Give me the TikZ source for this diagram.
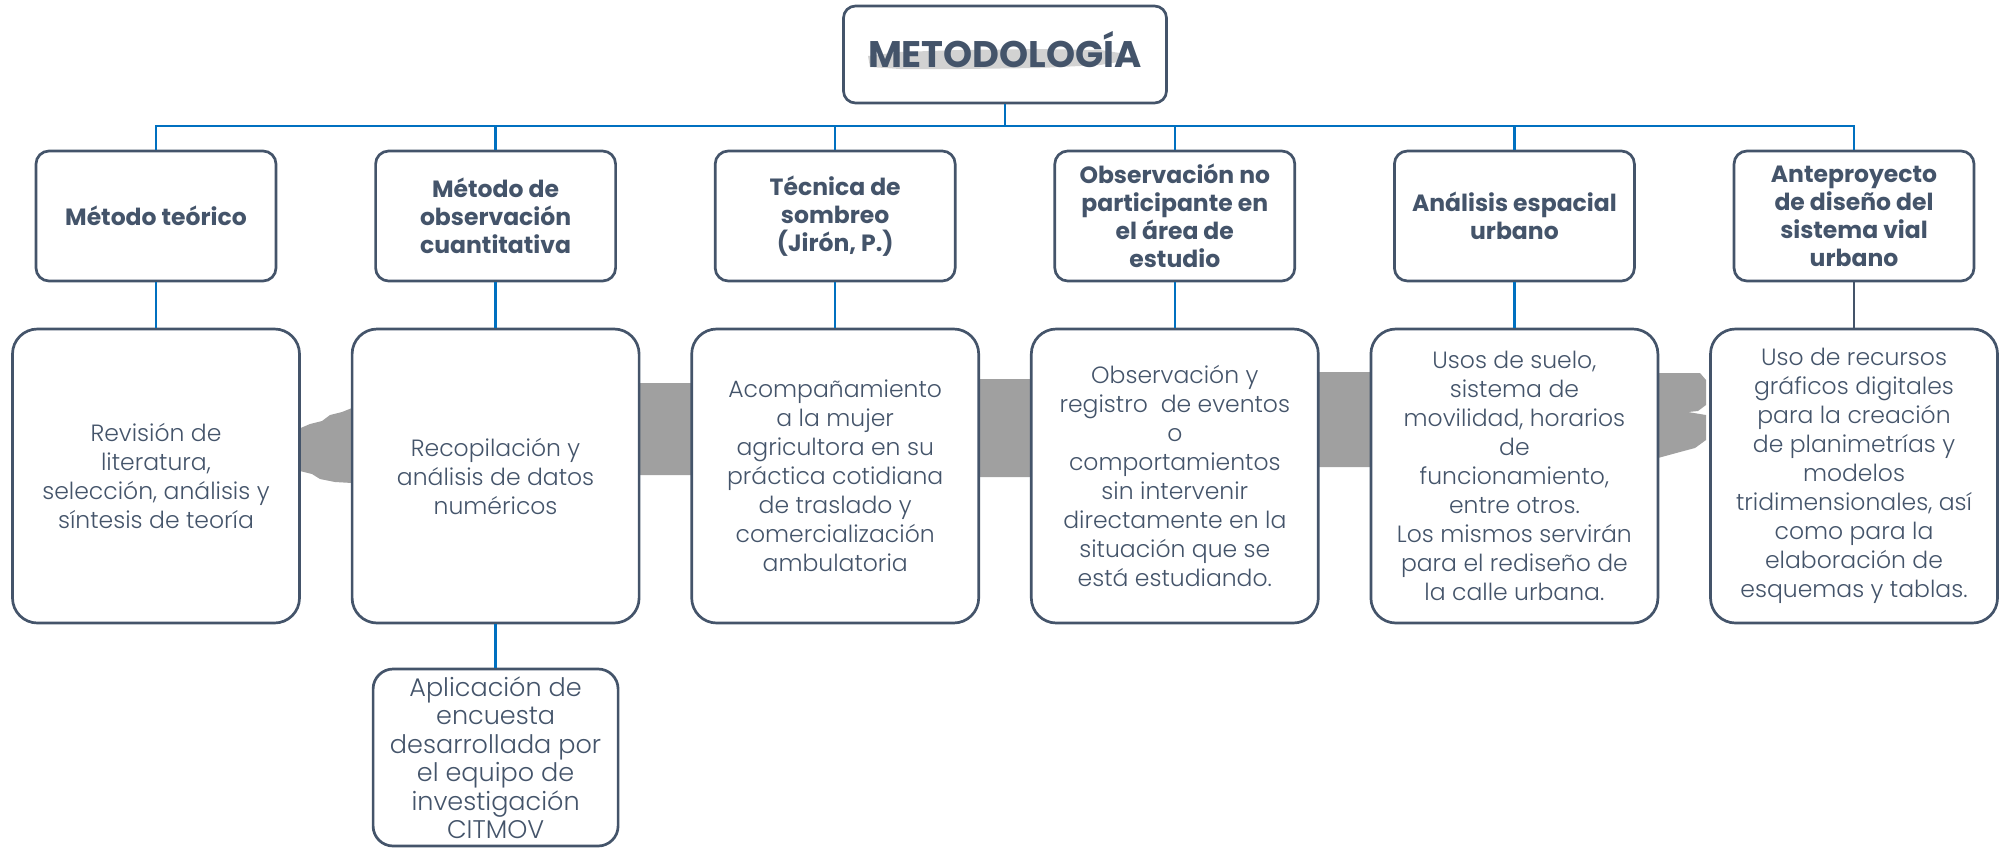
\documentclass[tikz,border=0pt]{standalone}
\usepackage{fontspec}
\setmainfont{Poppins}
\newfontfamily\lightfont{Poppins Light}
\definecolor{txt}{HTML}{44546A}
\definecolor{lnk}{HTML}{0070C0}
\definecolor{brush}{HTML}{A0A0A0}
\definecolor{tbrush}{HTML}{D2D2D2}
\begin{document}
\begin{tikzpicture}[x=1pt,y=-1pt,
  box/.style={draw=txt, line width=2.7pt, fill=white, rounded corners=13pt, text=txt, align=center, inner sep=0pt},
  hbox/.style={box, minimum width=240pt, minimum height=130pt, font=\fontsize{23.5}{28}\selectfont\bfseries},
  bbox/.style={box, minimum width=287pt, minimum height=294pt, rounded corners=25pt, font=\lightfont\fontsize{23.5}{29}\selectfont},
  sbox/.style={box, minimum width=245pt, minimum height=177pt, rounded corners=20pt, font=\lightfont\fontsize{25.5}{28.5}\selectfont},
  conn/.style={draw=lnk, line width=2.4pt},
]
\useasboundingbox (0,0) rectangle (2009,849);
% brush behind title text
\fill[tbrush] (868,56) -- (900,52) -- (960,50) -- (1040,49) -- (1100,50) -- (1120,53) -- (1118,62) -- (1100,65) -- (1040,68) -- (960,69) -- (900,69) -- (870,67) -- cycle;
% big brush behind the body boxes
\fill[brush] (296,430) -- (310,424) -- (322,421) -- (330,415) -- (342,412) -- (352,408)
  -- (640,383) -- (692,383) -- (980,379) -- (1032,379) -- (1320,372) -- (1372,372)
  -- (1658,373) -- (1700,373) -- (1706,380) -- (1706,405) -- (1698,411) -- (1688,412) -- (1706,415) -- (1706,440)
  -- (1695,448) -- (1680,452) -- (1658,458)
  -- (1372,467) -- (1320,467) -- (1032,477) -- (980,477) -- (692,475) -- (640,475)
  -- (352,483) -- (335,482) -- (320,479) -- (312,474) -- (300,471) -- (294,462) -- (298,450) -- (294,440) -- cycle;
% title
\node[box, fill=none, minimum width=323pt, minimum height=97pt, rounded corners=12pt, text height=26pt, text depth=0pt, font=\fontsize{37}{40}\selectfont\bfseries] (t) at (1005,54.5) {METODOLOGÍA};
% headers
\node[hbox] (h1) at (156,216) {Método teórico};
\node[hbox] (h2) at (495.6,216) {Método de\\observación\\cuantitativa};
\node[hbox] (h3) at (835.2,216) {Técnica de\\sombreo\\(Jirón, P.)};
\node[hbox] (h4) at (1174.8,216) {Observación no\\participante en\\el área de\\estudio};
\node[hbox] (h5) at (1514.4,216) {Análisis espacial\\urbano};
\node[hbox] (h6) at (1854,216) {Anteproyecto\\de diseño del\\sistema vial\\urbano};
% bodies
\node[bbox] (b1) at (156,476) {Revisión de\\literatura,\\selección, análisis y\\síntesis de teoría};
\node[bbox] (b2) at (495.6,476) {Recopilación y\\análisis de datos\\numéricos};
\node[bbox] (b3) at (835.2,476) {Acompañamiento\\a la mujer\\agricultora en su\\práctica cotidiana\\de traslado y\\comercialización\\ambulatoria};
\node[bbox] (b4) at (1174.8,476) {Observación y\\registro\ \ de eventos\\o\\comportamientos\\sin intervenir\\directamente en la\\situación que se\\está estudiando.};
\node[bbox] (b5) at (1514.4,476) {Usos de suelo,\\sistema de\\movilidad, horarios\\de\\funcionamiento,\\entre otros.\\Los mismos servirán\\para el rediseño de\\la calle urbana.};
\node[bbox] (b6) at (1854,476) {Uso de recursos\\gráficos digitales\\para la creación\\de planimetrías y\\modelos\\tridimensionales, así\\como para la\\elaboración de\\esquemas y tablas.};
\node[sbox] (s) at (495.6,757.5) {Aplicación de\\encuesta\\desarrollada por\\el equipo de\\investigación\\CITMOV};
% connectors
\coordinate (bus) at (1005,126);
\draw[conn] (t.south) -- (bus);
\draw[conn] (h1.north) |- (bus) -| (h6.north);
\foreach \i in {2,...,5} \draw[conn] (h\i.north |- bus) -- (h\i.north);
\foreach \i in {1,...,5} \draw[conn] (h\i.south) -- (b\i.north);
\draw[conn, draw=txt] (h6.south) -- (b6.north);
\draw[conn] (b2.south) -- (s.north);
\end{tikzpicture}
\end{document}
